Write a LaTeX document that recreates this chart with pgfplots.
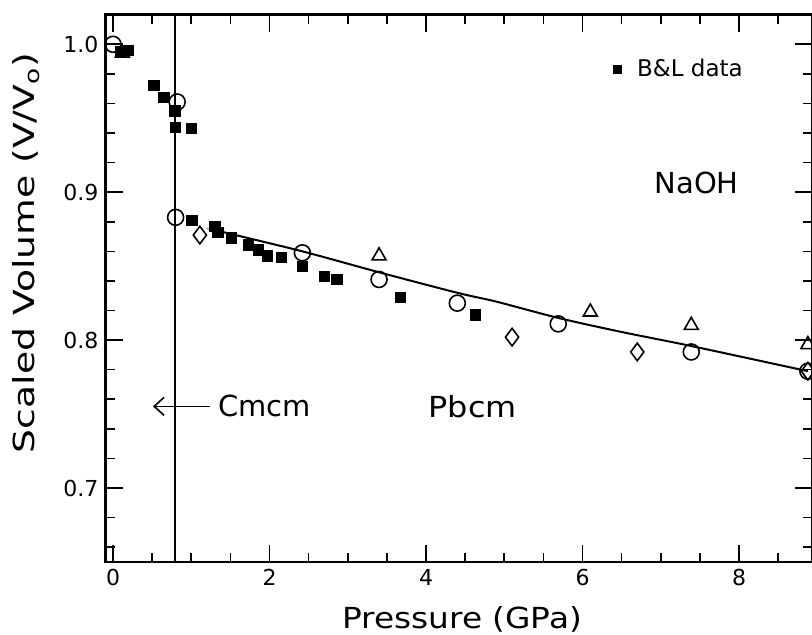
\documentclass[border=0pt]{standalone}
\usepackage{fontspec}
\setmainfont{DejaVu Sans}
\usepackage{graphicx}
\usepackage{pgfplots}
\pgfplotsset{compat=1.18}
\usetikzlibrary{calc,arrows.meta}

\begin{document}
\begin{tikzpicture}
\begin{axis}[
    scale only axis,
    width=353.25pt, height=273.65pt,
    xmin=-0.096, xmax=8.933,
    ymin=0.65, ymax=1.02,
    xtick={0,2,4,6,8},
    minor xtick={0.5,1,...,8.5},
    ytick={0.7,0.8,0.9,1.0},
    minor ytick={0.66,0.68,...,1.01},
    yticklabel style={/pgf/number format/.cd, fixed, fixed zerofill, precision=1},
    /pgf/number format/assume math mode=true,
    ticklabel style={font=\fontsize{11}{13}\selectfont},
    tick align=inside,
    major tick length=8.5pt, minor tick length=4.5pt,
    axis line style={line width=1.2pt},
    tick style={line width=0.8pt, black},
    xlabel={\scalebox{1.13}[1]{Pressure (GPa)}},
    ylabel={\scalebox{1.3}[1]{Scaled Volume (V/V\textsubscript{o})}},
    label style={font=\fontsize{14.5}{17}\selectfont},
    xlabel style={at={(axis description cs:0.505,-0.1206)}, anchor=base},
    ylabel style={at={(axis description cs:-0.0998,0.186)}, anchor=base west},
    legend style={draw=none, fill=none, at={(axis cs:6.31,0.983)}, anchor=west,
        font=\fontsize{11.5}{13}\selectfont},
    legend image code/.code={
        \path[draw=none, fill=none] (-2pt,0pt) -- (8pt,0pt);
        \draw[black] plot[only marks, mark=square*, mark size=2pt] coordinates {(0pt,0pt)};
    },
]
\coordinate (SW) at (rel axis cs:0,0);
\coordinate (NE) at (rel axis cs:1,1);

% B&L data
\addplot[only marks, mark=square*, mark size=2.6pt, black] coordinates {
    (0.10,0.995) (0.20,0.996) (0.52,0.972) (0.65,0.964) (0.79,0.955)
    (0.80,0.944) (1.00,0.943) (1.01,0.881) (1.30,0.877) (1.34,0.873)
    (1.51,0.869) (1.73,0.8645) (1.86,0.861) (1.97,0.857) (2.15,0.856)
    (2.42,0.850) (2.70,0.843) (2.86,0.841) (3.67,0.829) (4.63,0.817)
};
\addlegendentry{B\&L data}

% circles
\addplot[only marks, mark=o, mark size=4pt, black, line width=0.8pt, forget plot] coordinates {
    (0.00,1.000) (0.82,0.961) (0.80,0.883) (2.42,0.859) (3.40,0.841)
    (4.40,0.825) (5.69,0.811) (7.39,0.792) (8.88,0.779)
};

% triangles
\addplot[only marks, mark=triangle, mark size=4pt, black, line width=0.8pt, forget plot] coordinates {
    (0.12,0.994) (3.40,0.857) (6.10,0.819) (7.39,0.810) (8.88,0.797)
};

% diamonds
\addplot[only marks, mark=diamond, mark size=4.4pt, black, line width=0.8pt, forget plot] coordinates {
    (1.11,0.871) (5.10,0.802) (6.70,0.792) (8.88,0.779)
};

% fit
\addplot[black, line width=1pt, smooth, forget plot] coordinates {
    (1.30,0.8745) (1.41,0.873) (2.42,0.860) (3.39,0.846) (4.40,0.832)
    (4.90,0.826) (5.69,0.815) (6.50,0.8055) (7.39,0.796) (8.88,0.779)
};

% phase boundary
\addplot[black, line width=1pt, forget plot] coordinates {(0.79,0.65) (0.79,1.02)};

\draw[{Straight Barb[length=5pt,width=9pt]}-, line width=0.8pt] (axis cs:0.51,0.7552) -- (axis cs:1.24,0.7552);
\node[anchor=west, inner sep=0pt, font=\fontsize{14.5}{17}\selectfont] at (axis cs:1.34,0.7552) {Cmcm};
\node[anchor=west, inner sep=0pt, font=\fontsize{14.5}{17}\selectfont] at (axis cs:4.03,0.7552) {\scalebox{1.1}[1]{Pbcm}};
\node[inner sep=0pt, font=\fontsize{14.5}{17}\selectfont] at (axis cs:7.46,0.906) {NaOH};
\end{axis}
\pgfresetboundingbox
\path[use as bounding box] ($(SW)+(-52.75pt,-36.5pt)$) rectangle ($(NE)+(0pt,7.35pt)$);
\end{tikzpicture}
\end{document}
